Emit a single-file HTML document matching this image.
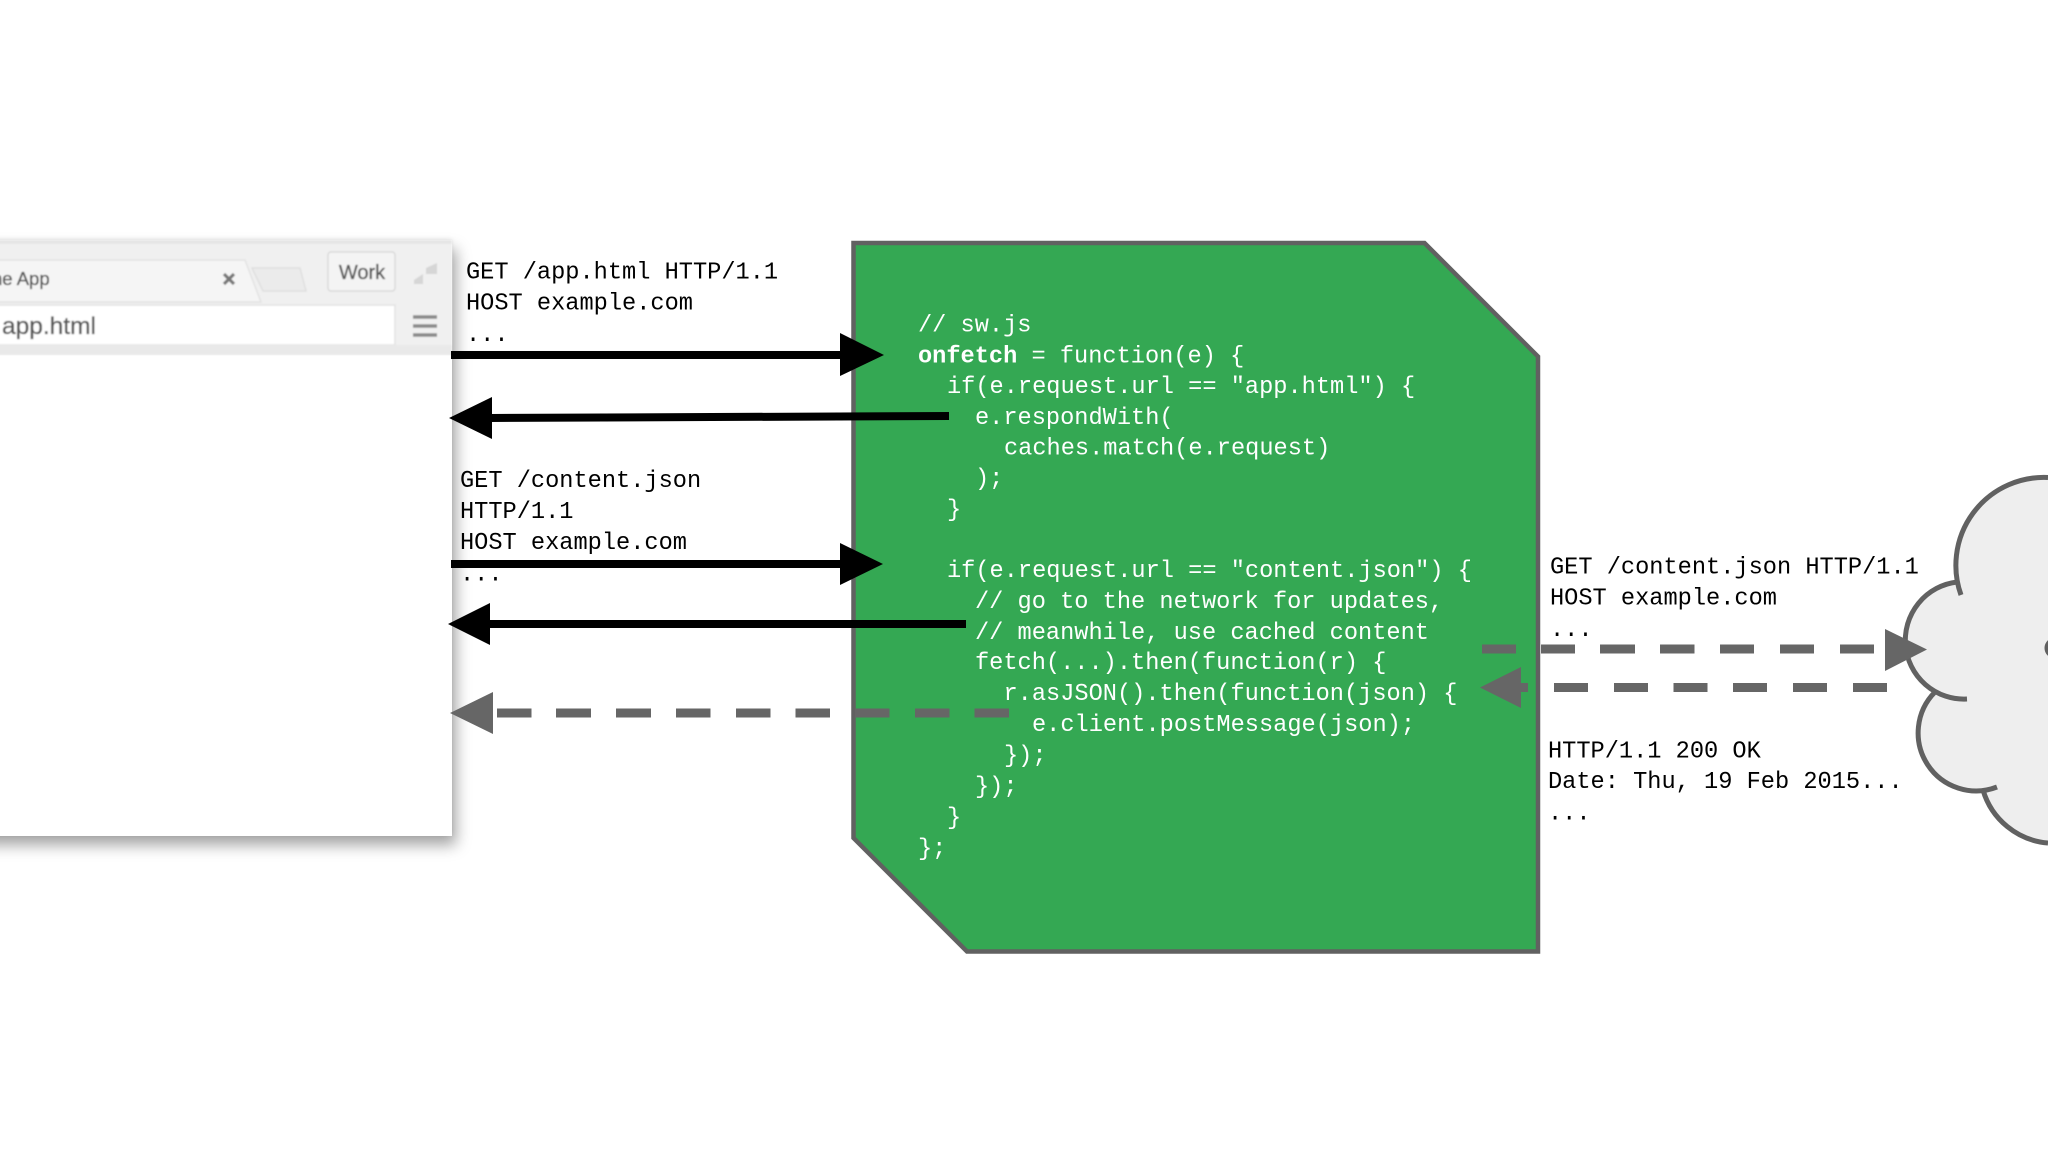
<!DOCTYPE html>
<html>
<head>
<meta charset="utf-8">
<style>
html,body{margin:0;padding:0;background:#fff;width:2048px;height:1152px;overflow:hidden}
#win{position:absolute;left:-40px;top:240px;width:492px;height:596px;background:#fff;box-shadow:4px 9px 14px rgba(0,0,0,.36),0 -1px 4px rgba(0,0,0,.08)}
svg{position:absolute;left:0;top:0}
text{font-family:"Liberation Mono",monospace;font-size:23.65px;white-space:pre}
.k{fill:#000}
.w{fill:#fff}
.u{font-family:"Liberation Sans",sans-serif;fill:#555;stroke:#555;stroke-width:.35}
</style>
</head>
<body>
<div id="win"></div>
<svg width="2048" height="1152" viewBox="0 0 2048 1152" xmlns="http://www.w3.org/2000/svg">
<defs><filter id="b" x="-5%" y="-5%" width="110%" height="110%"><feGaussianBlur stdDeviation="0.7"/></filter></defs>
<!-- browser chrome -->
<g filter="url(#b)">
<rect x="-5" y="240" width="457" height="115" fill="#f0f0f0"/>
<rect x="-5" y="240" width="457" height="4" fill="#e6e6e6"/>
<path d="M-5 260H245L261 302H-5Z" fill="#f5f5f5" stroke="#e2e2e2" stroke-width="1.5"/>
<path d="M252 268H300L306 291H263Z" fill="#ebebeb" stroke="#dfdfdf" stroke-width="1.5"/>
<rect x="328" y="252" width="67" height="39" rx="3" fill="#f4f4f4" stroke="#d9d9d9" stroke-width="1.5"/>
<text class="u" x="362" y="279" text-anchor="middle" style="font-family:'Liberation Sans',sans-serif;font-size:20px">Work</text>
<text class="u" x="-8" y="285" style="font-family:'Liberation Sans',sans-serif;font-size:18.500px">he App</text>
<path d="M224 274L234 284M234 274L224 284" stroke="#777" stroke-width="3.2"/>
<path d="M414 280l9 -6v10h-9ZM426 268l11 -5v11h-11Z" fill="#d6d6d6"/>
<rect x="-5" y="305" width="400" height="40" fill="#fff" stroke="#e2e2e2" stroke-width="1.5"/>
<text class="u" x="2" y="334" style="font-family:'Liberation Sans',sans-serif;font-size:24.500px">app.html</text>
<path d="M413 317H437M413 326H437M413 335H437" stroke="#8a8a8a" stroke-width="3.4"/>
<rect x="-5" y="345" width="457" height="10" fill="#e9e9e9"/>
</g>

<!-- cloud -->
<g fill="#eeeeee">
<circle cx="2044" cy="565.600" r="88"/>
<circle cx="1964.500" cy="640.700" r="58.750"/>
<circle cx="1977" cy="732" r="58"/>
<circle cx="2054" cy="769" r="74"/>
<path d="M1961 595L2048 500V843L1983 790L1960 740Z"/>
</g>
<g fill="none" stroke="#616161" stroke-width="5">
<path d="M2048 477.500A88 88 0 0 0 1961 595"/>
<path d="M1957 582A58.750 58.750 0 0 0 1967 699"/>
<path d="M1935 692A58 58 0 0 0 1997 787"/>
<path d="M1983 790A74 74 0 0 0 2048 843"/>
<circle cx="2055" cy="648" r="8"/>
</g>

<!-- service worker -->
<path d="M853.500 243H1424.500L1538 356.500V951.500H967L853.500 838Z" fill="#34a853" stroke="#616161" stroke-width="4.500"/>

<!-- left text -->
<text class="k" x="466" y="278.500">GET /app.html HTTP/1.1</text>
<text class="k" x="466" y="309.500">HOST example.com</text>
<text class="k" x="466" y="341">...</text>
<text class="k" x="460" y="487">GET /content.json</text>
<text class="k" x="460" y="518">HTTP/1.1</text>
<text class="k" x="460" y="549">HOST example.com</text>
<text class="k" x="460" y="580.500">...</text>

<!-- right text -->
<text class="k" x="1550" y="573.500">GET /content.json HTTP/1.1</text>
<text class="k" x="1550" y="604.500">HOST example.com</text>
<text class="k" x="1550" y="636">...</text>
<text class="k" x="1548" y="757.500">HTTP/1.1 200 OK</text>
<text class="k" x="1548" y="788">Date: Thu, 19 Feb 2015...</text>
<text class="k" x="1548" y="819.500">...</text>

<!-- code -->
<text class="w" x="918" y="331.500">// sw.js</text>
<text class="w" x="918" y="362.500"><tspan font-weight="bold">onfetch</tspan> = function(e) {</text>
<text class="w" x="947" y="393">if(e.request.url == "app.html") {</text>
<text class="w" x="975" y="424">e.respondWith(</text>
<text class="w" x="1004" y="454.500">caches.match(e.request)</text>
<text class="w" x="975" y="485">);</text>
<text class="w" x="947" y="516">}</text>
<text class="w" x="947" y="577">if(e.request.url == "content.json") {</text>
<text class="w" x="975" y="608">// go to the network for updates,</text>
<text class="w" x="975" y="639">// meanwhile, use cached content</text>
<text class="w" x="975" y="669">fetch(...).then(function(r) {</text>
<text class="w" x="1003.500" y="700">r.asJSON().then(function(json) {</text>
<text class="w" x="1032" y="731">e.client.postMessage(json);</text>
<text class="w" x="1004" y="762">});</text>
<text class="w" x="975" y="793">});</text>
<text class="w" x="947" y="824">}</text>
<text class="w" x="918" y="855">};</text>

<!-- black arrows -->
<rect x="451" y="351" width="392" height="8" fill="#000"/>
<path d="M840 333L884 355L840 376Z" fill="#000"/>
<path d="M490 414L949 412V420L490 422Z" fill="#000"/>
<path d="M492 397L449 418L492 439Z" fill="#000"/>
<rect x="451" y="560" width="392" height="8" fill="#000"/>
<path d="M840 543L883 564L840 585Z" fill="#000"/>
<rect x="488" y="620" width="478" height="8" fill="#000"/>
<path d="M490 603L448 624L490 645Z" fill="#000"/>

<!-- dashed arrows -->
<g fill="#666">
<path d="M493 692L450 713L493 734Z"/>
<rect x="497" y="708.500" width="34.500" height="9"/>
<rect x="556" y="708.500" width="35" height="9"/>
<rect x="616" y="708.500" width="35" height="9"/>
<rect x="676" y="708.500" width="34.500" height="9"/>
<rect x="736" y="708.500" width="34.500" height="9"/>
<rect x="795.500" y="708.500" width="34.500" height="9"/>
<rect x="855" y="708.500" width="34.500" height="9"/>
<rect x="915" y="708.500" width="34.500" height="9"/>
<rect x="974.500" y="708.500" width="34.500" height="9"/>

<rect x="1482" y="644.500" width="34" height="9"/>
<rect x="1541" y="644.500" width="34" height="9"/>
<rect x="1600" y="644.500" width="35" height="9"/>
<rect x="1660" y="644.500" width="34.500" height="9"/>
<rect x="1720" y="644.500" width="34" height="9"/>
<rect x="1780" y="644.500" width="34" height="9"/>
<rect x="1840" y="644.500" width="34" height="9"/>
<path d="M1885 629L1927 649.500L1885 671Z"/>

<path d="M1521 667L1480 687.500L1521 708Z"/>
<rect x="1519" y="683" width="9" height="9"/>
<rect x="1554" y="683" width="34" height="9"/>
<rect x="1614" y="683" width="34" height="9"/>
<rect x="1673.500" y="683" width="34" height="9"/>
<rect x="1733" y="683" width="34" height="9"/>
<rect x="1793" y="683" width="34" height="9"/>
<rect x="1853" y="683" width="34" height="9"/>
</g>
</svg>
</body>
</html>
